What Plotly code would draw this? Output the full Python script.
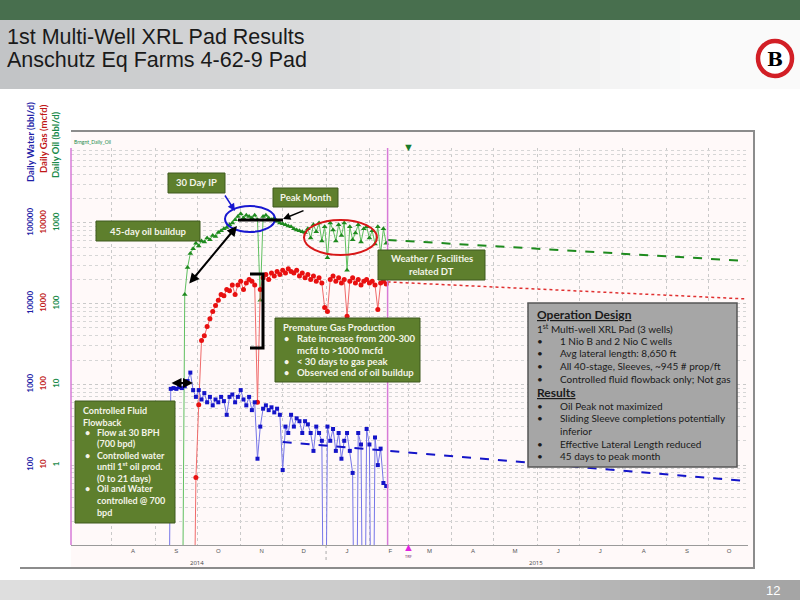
import plotly.graph_objects as go
import pandas as pd

W, H = 800, 600

# ---------------- data ----------------
oil_start = "2014-09-20"
oil_vals = [0.001, 130, 280, 420, 480, 560, 520, 600, 580, 650, 620, 700, 680, 760, 800, 850,
            880, 950, 1000, 1100, 1200, 1300, 1150, 1250, 1200, 1150, 1250, 1100, 110, 1200,
            1250, 1150, 1100, 1150, 1050, 1000, 980, 950, 920, 900, 850, 820, 800, 780, 760,
            850, 650, 950, 780, 1000, 600, 900, 370, 1000, 820, 600, 950, 700, 1000, 260, 900,
            620, 750, 950, 580, 850, 900, 650, 800, 550, 900, 420, 850, 560]

gas_start = "2014-09-28"
gas_vals = [0.01, 7, 56, 350, 400, 520, 650, 800, 950, 1100, 1300, 1250, 1500, 1450, 1700,
            1300, 1700, 1900, 1500, 1800, 2000, 1900, 1700, 60, 1500, 2100, 2300, 2000, 2400,
            2200, 2500, 2300, 2600, 2400, 2700, 2500, 2400, 2600, 2200, 2400, 2100, 2300, 2000,
            2200, 1900, 2100, 1800, 900, 800, 2000, 2200, 1900, 2100, 1800, 2000, 700, 1900,
            2100, 1800, 2000, 1700, 1900, 2000, 1800, 1900, 1700, 850, 1800, 1900, 1750]

water_start = "2014-09-10"
water_vals = [0.01, 880, 900, 880, 920, 900, 950, 1100, 1400, 850, 700, 850, 650, 780, 600, 700,
              550, 650, 600, 700, 620, 420, 700, 750, 600, 700, 850, 650, 550, 700, 480, 600,
              120, 300, 500, 550, 480, 520, 450, 500, 420, 87, 300, 250, 420, 300, 380, 350, 250,
              350, 320, 250, 150, 300, 250, 200, 0.01, 300, 200, 280, 150, 250, 120, 200, 250,
              150, 80, 0.01, 250, 180, 0.01, 280, 180, 0.01, 220, 100, 160, 60, 55]

oil_fc_dates = ["2015-02-14", "2015-10-29"]
oil_fc_vals = [616, 338]
gas_fc_dates = ["2015-02-14", "2015-10-29"]
gas_fc_vals = [1860, 1143]
water_fc_dates = ["2014-12-01", "2015-10-29"]
water_fc_vals = [193, 63.5]

month_mid = pd.date_range("2014-08-01", "2015-10-01", freq="MS") + pd.Timedelta(days=15)
month_letters = ["A", "S", "O", "N", "D", "J", "F", "M", "A", "M", "J", "J", "A", "S", "O"]
month_starts = pd.date_range("2014-08-01", "2015-10-01", freq="MS")

oil_ticks = [1, 10, 100, 1000]
gas_ticks = [10, 100, 1000, 10000]
water_ticks = [100, 1000, 10000, 100000]

# ---------------- helpers ----------------
def px(x):
    return x / W

def py(y):
    return 1 - y / H

shapes = []
annos = []

def rect(x0, y0, x1, y1, fill, line="rgba(0,0,0,0)", lw=0, layer="above"):
    shapes.append(dict(type="rect", xref="paper", yref="paper", x0=px(x0), x1=px(x1),
                       y0=py(y1), y1=py(y0), fillcolor=fill, line=dict(color=line, width=lw),
                       layer=layer))

def line(x0, y0, x1, y1, color, w=1, dash="solid", layer="above"):
    shapes.append(dict(type="line", xref="paper", yref="paper", x0=px(x0), x1=px(x1),
                       y0=py(y0), y1=py(y1), line=dict(color=color, width=w, dash=dash),
                       layer=layer))

def txt(x, y, s, size=10, color="#111", anchor="left", family="Lato", bold=False, angle=0):
    annos.append(dict(x=px(x), y=py(y), xref="paper", yref="paper", text=s, showarrow=False,
                      xanchor=anchor, yanchor="middle", textangle=angle, borderpad=0,
                      font=dict(size=size, color=color, family=family,
                                weight="bold" if bold else "normal")))

def arrow(tx, ty, hx, hy, color="black", w=2, both=False):
    annos.append(dict(x=px(hx), y=py(hy), xref="paper", yref="paper", ax=tx - hx, ay=ty - hy,
                      axref="pixel", ayref="pixel", text="", showarrow=True, arrowhead=2,
                      arrowsize=1, arrowwidth=w, arrowcolor=color,
                      arrowside="end+start" if both else "end", startarrowhead=2))

def lerp(c0, c1, t):
    return "rgb(%d,%d,%d)" % tuple(round(a + (b - a) * t) for a, b in zip(c0, c1))

# ---------------- background / header ----------------
rect(0, 0, 800, 20, "#486f4e", layer="below")
n = 40
for i in range(n):
    t = i / (n - 1)
    c = lerp((194, 196, 198), (250, 250, 250), min(1, t * 1.15))
    rect(i * 20, 20, i * 20 + 21, 89, c, layer="below")
for i in range(n):
    t = i / (n - 1)
    if t < 0.5:
        c = lerp((222, 222, 222), (200, 200, 200), t / 0.5)
    else:
        c = lerp((200, 200, 200), (165, 165, 165), (t - 0.5) / 0.5)
    rect(i * 20, 580, i * 20 + 21, 600, c, layer="below")

# chart frame
rect(71, 131, 754, 568, "#fff9f9", layer="below")
line(71, 131, 755, 131, "#8c8c8c", 2)
line(754, 131, 754, 568, "#8c8c8c", 2)
line(20, 568, 755, 568, "#8c8c8c", 2)

# title
txt(6, 37, "1st Multi-Well XRL Pad Results", 21.5, "#1a1a1a", family="Liberation Sans")
txt(6, 60, "Anschutz Eq Farms 4-62-9 Pad", 21.5, "#1a1a1a", family="Liberation Sans")
txt(773, 590, "12", 13, "white", anchor="center", family="Liberation Sans")

# logo
shapes.append(dict(type="circle", xref="paper", yref="paper", x0=px(758), x1=px(792),
                   y0=py(76), y1=py(41), fillcolor="white", line=dict(color="#d21f26", width=4.5)))
txt(775, 59, "B", 19, "black", anchor="center", family="DejaVu Serif", bold=True)

# axis titles
txt(30, 142, "<b>Daily Water (bbl/d)</b>", 9.5, "#1f1fa8", anchor="center", angle=-90)
txt(43, 139, "<b>Daily Gas (mcfd)</b>", 9.5, "#c01818", anchor="center", angle=-90)
txt(55, 145, "<b>Daily Oil (bbl/d)</b>", 9.5, "#1a8a4a", anchor="center", angle=-90)
txt(73, 142, "Brngnt_Daily_Oil", 5, "#1a8a4a")

# ---------------- traces ----------------
fig = go.Figure()

def dates(start, vals):
    return pd.date_range(start, periods=len(vals), freq="2D")

fig.add_trace(go.Scatter(x=dates(water_start, water_vals), y=water_vals, yaxis="y3",
                         mode="lines+markers", line=dict(color="#7575e8", width=1),
                         marker=dict(symbol="square", size=4, color="#1414c8"), showlegend=False))
fig.add_trace(go.Scatter(x=water_fc_dates, y=water_fc_vals, yaxis="y3", mode="lines",
                         line=dict(color="#1414c8", width=2, dash="dash"), showlegend=False))
fig.add_trace(go.Scatter(x=dates(gas_start, gas_vals), y=gas_vals, yaxis="y2",
                         mode="lines+markers", line=dict(color="#f06a6a", width=1),
                         marker=dict(symbol="circle", size=5, color="#e81010"), showlegend=False))
fig.add_trace(go.Scatter(x=gas_fc_dates, y=gas_fc_vals, yaxis="y2", mode="lines",
                         line=dict(color="#e03030", width=1.5, dash="dot"), showlegend=False))
fig.add_trace(go.Scatter(x=dates(oil_start, oil_vals), y=oil_vals, yaxis="y",
                         mode="lines+markers", line=dict(color="#5fbf5f", width=1),
                         marker=dict(symbol="triangle-up", size=5, color="#1e8a1e"),
                         showlegend=False))
fig.add_trace(go.Scatter(x=oil_fc_dates, y=oil_fc_vals, yaxis="y", mode="lines",
                         line=dict(color="#1e8a1e", width=2, dash="dash"), showlegend=False))

# ---------------- vertical markers ----------------
line(71, 148, 71, 545, "#d77ad7", 1.5)
shapes.append(dict(type="line", xref="x", yref="paper", x0="2015-02-14", x1="2015-02-14",
                   y0=py(545), y1=py(148), line=dict(color="#d77ad7", width=1.5)))
shapes.append(dict(type="line", xref="x", yref="paper", x0="2015-01-01", x1="2015-01-01",
                   y0=py(545), y1=py(560), line=dict(color="#aaaaaa", width=1, dash="dot")))
annos.append(dict(x="2015-03-01", y=py(146), xref="x", yref="paper", text="▼", showarrow=False,
                  font=dict(size=11, color="#1a7a2a"), yanchor="middle"))
annos.append(dict(x="2015-03-01", y=py(546), xref="x", yref="paper", text="▲", showarrow=False,
                  font=dict(size=11, color="#e020e0"), yanchor="middle"))
annos.append(dict(x="2015-03-01", y=py(556), xref="x", yref="paper", text="TRF", showarrow=False,
                  font=dict(size=4, color="#602060"), yanchor="middle"))
annos.append(dict(x="2014-10-01", y=py(563), xref="x", yref="paper", text="2014", showarrow=False,
                  font=dict(size=6, color="#444"), yanchor="middle"))
annos.append(dict(x="2015-05-31", y=py(563), xref="x", yref="paper", text="2015", showarrow=False,
                  font=dict(size=6, color="#444"), yanchor="middle"))

# ---------------- callouts ----------------
GF, GB, GT = "#5e7f2d", "#3f5a1e", "#f4f4e8"

# ellipses
shapes.append(dict(type="circle", xref="paper", yref="paper", x0=px(225), x1=px(275),
                   y0=py(232), y1=py(206), line=dict(color="#1818d0", width=2)))
shapes.append(dict(type="circle", xref="paper", yref="paper", x0=px(304), x1=px(377),
                   y0=py(255), y1=py(220), line=dict(color="#d81818", width=2)))

rect(168, 173, 225, 193, GF, GB, 1)
txt(196.5, 183, "30 Day IP", 9.5, GT, anchor="center", bold=True)
rect(273, 188, 338, 207, GF, GB, 1)
txt(305.5, 197.5, "Peak Month", 9.5, GT, anchor="center", bold=True)
rect(96, 221, 200, 241, GF, GB, 1)
txt(148, 231, "45-day oil buildup", 9.5, GT, anchor="center", bold=True)
rect(378, 250, 485, 280, GF, GB, 1)
txt(431.5, 258.5, "Weather / Facilities", 9.5, GT, anchor="center", bold=True)
txt(431.5, 271, "related DT", 9.5, GT, anchor="center", bold=True)

rect(275, 318, 420, 382, GF, GB, 1)
txt(282, 327, "Premature Gas Production", 9.5, GT, bold=True)
for yy, s in [(339, "Rate increase from 200-300"), (350, "mcfd to >1000 mcfd"),
              (361, "< 30 days to gas peak"), (372, "Observed end of oil buildup")]:
    txt(296, yy, s, 9.5, GT, bold=True)
for yy in [339, 361, 372]:
    txt(286, yy, "•", 9, GT, anchor="center", bold=True)

rect(75, 401, 175, 523, GF, GB, 1)
for yy, s in [(410, "Controlled Fluid"), (422, "Flowback")]:
    txt(82, yy, s, 9, GT, bold=True)
for yy, s in [(432, "Flow at 30 BPH"), (443, "(700 bpd)"), (455, "Controlled water"),
              (466, "until 1<sup>st</sup> oil prod."), (478, "(0 to 21 days)"),
              (489, "Oil and Water"), (500, "controlled @ 700"), (512, "bpd")]:
    txt(96, yy, s, 9, GT, bold=True)
for yy in [432, 455, 489]:
    txt(87, yy, "•", 9, GT, anchor="center", bold=True)

rect(528, 303, 737, 467, "#a6a6a6", "#555555", 1.5)
TC = "#1a1a1a"
txt(536, 314, "<u>Operation Design</u>", 12, TC, bold=True)
txt(536, 328, "1<sup>st</sup> Multi-well XRL Pad (3 wells)", 10, TC)
for yy, s, b in [(341, "1 Nio B and 2 Nio C wells", True), (353, "Avg lateral length: 8,650 ft", True),
                 (366, "All 40-stage, Sleeves, ~945 # prop/ft", True),
                 (379, "Controlled fluid flowback only; Not gas", True),
                 (406, "Oil Peak not maximized", True),
                 (418, "Sliding Sleeve completions potentially", True), (431, "inferior", False),
                 (444, "Effective Lateral Length reduced", True), (456, "45 days to peak month", True)]:
    txt(559, yy, s, 10, TC)
    if b:
        txt(540, yy, "•", 10, TC, anchor="center")
txt(536, 392, "<u>Results</u>", 12, TC, bold=True)

# arrows & bars
arrow(224, 194, 235, 211, color="#1818d0", w=1.5)
arrow(305, 210, 283, 219, w=1.5)
line(238, 220, 283, 220, "black", 3)
arrow(188, 285, 237, 226, w=2, both=True)
arrow(170, 383, 193, 383, w=2, both=True)
shapes.append(dict(type="path", xref="paper", yref="paper",
                   path="M %f %f L %f %f L %f %f L %f %f" % (px(250), py(274), px(263), py(274),
                                                              px(263), py(348), px(250), py(348)),
                   line=dict(color="black", width=3)))

# ---------------- axes ----------------
minor_vals = [m * 10 ** e for e in range(-1, 4) for m in range(2, 10)]
grid_c = "#c9c9c9"
ydom = [py(545), py(148)]

fig.update_layout(
    width=W, height=H, margin=dict(l=0, r=0, t=0, b=0),
    paper_bgcolor="white", plot_bgcolor="rgba(0,0,0,0)",
    shapes=shapes, annotations=annos,
    xaxis=dict(type="date", domain=[px(71), px(748)],
               range=["2014-07-02 17:00", "2015-10-29 14:00"],
               tickmode="array", tickvals=list(month_mid), ticktext=month_letters,
               tickfont=dict(size=6, color="#555", family="Liberation Sans"),
               showgrid=False, showline=True, linecolor="#9a9a9a", linewidth=1, ticks="",
               minor=dict(tickmode="array", tickvals=list(month_starts), showgrid=True,
                          gridcolor=grid_c, griddash="dot", gridwidth=1),
               zeroline=False, fixedrange=True),
    yaxis=dict(type="log", domain=ydom, range=[-0.99, 3.929], anchor="free", position=px(61),
               tickmode="array", tickvals=oil_ticks, ticktext=[str(v) for v in oil_ticks],
               tickangle=-90, tickfont=dict(size=8, color="#1a8a4a", family="Lato", weight="bold"),
               showgrid=True, gridcolor=grid_c, griddash="dot", gridwidth=1,
               minor=dict(tickmode="array", tickvals=minor_vals, showgrid=True,
                          gridcolor="#d6d6d6", griddash="dot", gridwidth=1),
               showline=False, ticks="", zeroline=False),
    yaxis2=dict(type="log", range=[0.01, 4.929], overlaying="y", anchor="free", position=px(48),
                side="left", tickmode="array", tickvals=gas_ticks,
                ticktext=[str(v) for v in gas_ticks], tickangle=-90,
                tickfont=dict(size=8, color="#c01818", family="Lato", weight="bold"),
                showgrid=False, showline=False, ticks="", zeroline=False),
    yaxis3=dict(type="log", range=[1.01, 5.929], overlaying="y", anchor="free", position=px(35),
                side="left", tickmode="array", tickvals=water_ticks,
                ticktext=[str(v) for v in water_ticks], tickangle=-90,
                tickfont=dict(size=8, color="#1f1fa8", family="Lato", weight="bold"),
                showgrid=False, showline=False, ticks="", zeroline=False),
)

fig.write_html("out.html", config={"displayModeBar": False},
               post_script="document.body.style.margin='0';document.body.style.overflow='hidden';")
